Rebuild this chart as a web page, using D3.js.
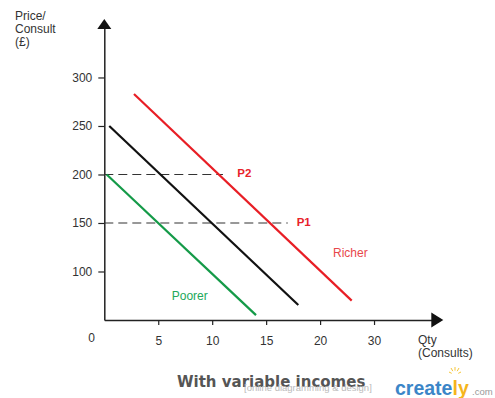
<!DOCTYPE html>
<html>
<head>
<meta charset="utf-8">
<script src="https://cdn.jsdelivr.net/npm/d3@7"></script>
<style>
  body { margin: 0; background: #fff; }
  svg text { font-family: "Liberation Sans", Arial, sans-serif; }
</style>
</head>
<body>
<div id="chart"></div>
<script>
// values
let yTicks = [100, 150, 200, 250, 300]
let xTicks = [5, 10, 15, 20, 25]
let xTickLabels = ["5", "10", "15", "20", "30"]

let poorer = [{x: 0.22, y: 200}, {x: 14.06, y: 55}]
let middle = [{x: 0.46, y: 250}, {x: 17.98, y: 65.5}]
let richer = [{x: 2.75, y: 283}, {x: 22.93, y: 70}]

let priceLines = [
  {y: 200, x0: 0, x1: 11},
  {y: 150, x0: 0, x1: 17}
]

let labels = [
  {text: "P2", x: 12.33, y: 197, bold: true, color: "#e8222a"},
  {text: "P1", x: 17.83, y: 146.5, bold: true, color: "#e8222a"},
  {text: "Richer", x: 21.2, y: 115, bold: false, color: "#e8474a"},
  {text: "Poorer", x: 6.25, y: 70.6, bold: false, color: "#22a85a"}
]

let w = 495
let h = 398

let svg = d3.select("#chart")
  .append("svg")
  .attr("width", w)
  .attr("height", h)

let x = d3.scaleLinear()
  .domain([0, 30.4])
  .range([104.3, 432.3])

let y = d3.scaleLinear()
  .domain([50, 351])
  .range([320, 28])

let axisColor = "#222"

// y axis
let yAxis = d3.axisLeft(y)
  .tickValues(yTicks)
  .tickSize(6)
  .tickPadding(6)
  .tickSizeOuter(0)

let gy = svg.append("g")
  .attr("transform", `translate(${x(0)},0)`)
  .call(yAxis)
gy.select(".domain").attr("stroke", axisColor).attr("stroke-width", 1.5)
gy.selectAll(".tick line").attr("stroke", axisColor).attr("stroke-width", 1.2)
gy.selectAll(".tick text").attr("font-size", 12).attr("fill", "#333")
  .attr("font-family", "Liberation Sans, Arial, sans-serif")

// x axis
let xAxis = d3.axisBottom(x)
  .tickValues(xTicks)
  .tickFormat((d, i) => xTickLabels[i])
  .tickSize(5)
  .tickPadding(11)
  .tickSizeOuter(0)

let gx = svg.append("g")
  .attr("transform", `translate(0,${y(50)})`)
  .call(xAxis)
gx.select(".domain").attr("stroke", axisColor).attr("stroke-width", 1.5)
gx.selectAll(".tick line").attr("stroke", axisColor).attr("stroke-width", 1.2)
gx.selectAll(".tick text").attr("font-size", 12).attr("fill", "#333")
  .attr("font-family", "Liberation Sans, Arial, sans-serif")

// arrow heads
let yTop = y(351)
svg.append("path")
  .attr("d", `M${x(0)},${yTop - 9} L${x(0) - 7},${yTop + 1} L${x(0) + 7},${yTop + 1} Z`)
  .attr("fill", "#111")
let xEnd = x(30.4)
svg.append("path")
  .attr("d", `M${xEnd + 11},${y(50)} L${xEnd - 1},${y(50) - 7.5} L${xEnd - 1},${y(50) + 7.5} Z`)
  .attr("fill", "#111")

// origin label
svg.append("text")
  .attr("x", x(0) - 16)
  .attr("y", y(50) + 22)
  .attr("font-size", 12)
  .attr("fill", "#333")
  .text("0")

// axis titles
let yTitle = ["Price/", "Consult", "(£)"]
svg.append("g").selectAll("text")
  .data(yTitle)
  .join("text")
  .attr("x", 15)
  .attr("y", (d, i) => 20 + i * 13)
  .attr("font-size", 12)
  .attr("fill", "#333")
  .text(d => d)

let xTitle = ["Qty", "(Consults)"]
svg.append("g").selectAll("text")
  .data(xTitle)
  .join("text")
  .attr("x", 418)
  .attr("y", (d, i) => 344 + i * 13)
  .attr("font-size", 12)
  .attr("fill", "#333")
  .text(d => d)

// dashed price lines
svg.append("g").selectAll("line")
  .data(priceLines)
  .join("line")
  .attr("x1", d => x(d.x0))
  .attr("x2", d => x(d.x1))
  .attr("y1", d => y(d.y))
  .attr("y2", d => y(d.y))
  .attr("stroke", "#333")
  .attr("stroke-width", 1.1)
  .attr("stroke-dasharray", "9,5")

// demand lines
let line = d3.line()
  .x(d => x(d.x))
  .y(d => y(d.y))

let curves = [
  {data: poorer, color: "#149a48"},
  {data: middle, color: "#111"},
  {data: richer, color: "#e81e25"}
]

svg.append("g").selectAll("path")
  .data(curves)
  .join("path")
  .attr("d", d => line(d.data))
  .attr("fill", "none")
  .attr("stroke", d => d.color)
  .attr("stroke-width", 2.2)

// curve labels
svg.append("g").selectAll("text")
  .data(labels)
  .join("text")
  .attr("x", d => x(d.x))
  .attr("y", d => y(d.y))
  .attr("font-size", d => d.bold ? 11.5 : 12)
  .attr("font-weight", d => d.bold ? "bold" : "normal")
  .attr("fill", d => d.color)
  .text(d => d.text)

// caption
svg.append("text")
  .attr("x", 177)
  .attr("y", 387)
  .attr("font-size", 15)
  .attr("font-weight", "bold")
  .attr("fill", "#555")
  .style("font-family", "DejaVu Sans, sans-serif")
  .text("With variable incomes")

svg.append("text")
  .attr("x", 244)
  .attr("y", 391)
  .attr("font-size", 9.5)
  .attr("fill", "#bbb")
  .text("[online diagramming & design]")

// creately mark
let logo = svg.append("text")
  .attr("x", 395)
  .attr("y", 395)
  .attr("font-size", 19.5)
  .attr("font-weight", "bold")
logo.append("tspan").attr("fill", "#3b86c8").text("create")
logo.append("tspan").attr("fill", "#f5b51c").text("ly")
svg.append("text")
  .attr("x", 472)
  .attr("y", 395)
  .attr("font-size", 9.5)
  .attr("fill", "#999")
  .text(".com")

// little bulb rays above the "l"
let rays = [[-6, -3], [-4, -7], [0, -8], [4, -7], [6, -3]]
svg.append("g")
  .attr("transform", "translate(455,375)")
  .selectAll("line")
  .data(rays)
  .join("line")
  .attr("x1", d => d[0] * 0.55)
  .attr("y1", d => d[1] * 0.55)
  .attr("x2", d => d[0])
  .attr("y2", d => d[1])
  .attr("stroke", "#f5c63a")
  .attr("stroke-width", 1)
</script>
</body>
</html>
